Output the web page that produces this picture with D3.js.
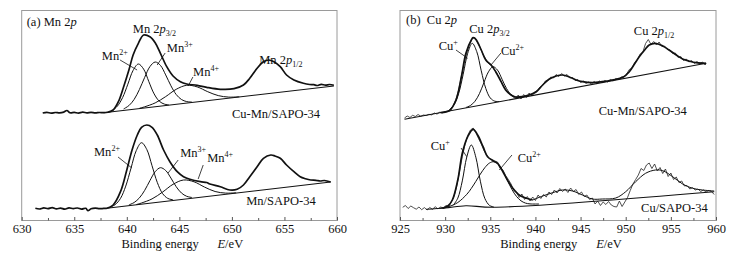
<!DOCTYPE html>
<html>
<head>
<meta charset="utf-8">
<script src="https://cdn.jsdelivr.net/npm/d3@7"></script>
<style>
  body { margin: 0; background: #fff; }
  svg text { font-family: "Liberation Serif", "Times New Roman", serif; fill: #111; }
</style>
</head>
<body>
<script>
// ---- data: [binding energy eV, intensity a.u.] ----
const mnTicks = [630, 635, 640, 645, 650, 655, 660];
const cuTicks = [925, 930, 935, 940, 945, 950, 955, 960];

// (a) Cu-Mn/SAPO-34, Mn 2p
const mnCuEnvelope = [[632.0,107.5],[632.4,108.2],[632.8,107.3],[633.2,108.0],[633.6,107.6],[634.0,108.4],[634.3,110.0],[634.6,107.8],[635.0,108.1],[635.4,107.4],[635.8,108.3],[636.2,107.7],[636.6,108.2],[637.0,107.6],[637.4,108.0],[637.8,107.8],[638.2,108.3],[638.7,110.5],[639.2,118.8],[639.7,133.8],[640.2,150.5],[640.6,165.5],[641.1,177.2],[641.6,185.5],[642.2,183.8],[642.7,177.8],[643.2,167.2],[643.8,153.8],[644.4,144.5],[645.1,138.8],[645.7,136.5],[646.7,135.2],[647.6,133.2],[648.9,131.2],[650.2,131.8],[651.1,135.5],[651.7,142.2],[652.4,152.2],[653.0,158.8],[653.5,160.5],[654.0,158.8],[654.6,153.8],[655.2,145.5],[655.9,140.5],[656.8,137.2],[657.4,136.0],[657.8,135.8],[658.1,135.0],[658.5,136.2],[658.9,135.3],[659.3,136.0],[659.7,135.2]];
const mnCuBase = [[637.8,107.8],[659.7,134.5]];
const mnCuMn2 = [[638.7,110.7],[639.1,114.3],[639.6,122.9],[640.1,136.3],[640.6,150.1],[641.1,156.5],[641.6,151.4],[642.1,138.8],[642.6,126.6],[643.1,119.2],[643.6,116.3],[644.0,115.6]];
const mnCuMn3 = [[639.7,111.6],[640.2,114.9],[640.7,121.1],[641.2,131.0],[641.7,143.1],[642.2,153.9],[642.7,158.5],[643.2,155.1],[643.7,145.6],[644.2,134.7],[644.7,126.0],[645.2,121.0],[645.7,118.9],[646.2,118.4]];
const mnCuMn4 = [[641.2,112.2],[641.7,113.7],[642.7,117.6],[643.7,123.9],[644.7,131.2],[645.7,135.2],[646.7,133.6],[647.7,128.8],[648.7,124.9],[649.7,123.4],[650.7,123.7]];

// (a) Mn/SAPO-34, Mn 2p
const mnEnvelope = [[631.3,12.2],[631.7,11.5],[632.1,12.6],[632.5,11.8],[632.9,12.9],[633.3,11.6],[633.7,12.4],[634.1,11.3],[634.5,12.7],[634.9,11.9],[635.3,12.5],[635.7,11.4],[636.1,12.2],[636.3,9.8],[636.6,11.7],[637.0,12.3],[637.4,11.8],[637.8,12.1],[638.1,12.2],[638.7,15.5],[639.4,28.8],[640.0,50.5],[640.5,70.5],[641.0,85.5],[641.4,93.2],[641.9,95.5],[642.4,93.2],[642.9,85.5],[643.5,70.5],[644.1,58.8],[644.8,48.8],[645.4,43.8],[646.0,41.2],[647.0,38.8],[647.6,38.0],[647.9,36.5],[648.9,33.8],[649.8,30.5],[650.5,31.2],[651.1,35.5],[651.7,43.8],[652.4,53.8],[653.0,62.2],[653.7,65.5],[654.1,64.5],[654.6,62.2],[655.2,55.5],[655.9,48.8],[656.5,43.8],[657.0,41.8],[657.5,40.5],[658.0,40.2],[658.4,39.5],[658.8,40.0],[659.4,38.5]];
const mnBase = [[638.1,12.2],[659.4,38.5]];
const mnMn2 = [[638.4,13.3],[638.9,15.9],[639.4,22.1],[639.9,34.4],[640.4,52.3],[640.9,69.9],[641.4,77.8],[641.9,71.1],[642.4,54.8],[642.9,38.1],[643.4,27.0],[643.9,22.1],[644.4,20.7]];
const mnMn3 = [[640.2,15.6],[640.7,18.0],[641.2,22.6],[641.7,30.1],[642.2,39.9],[642.7,48.8],[643.2,52.8],[643.7,50.0],[644.2,42.4],[644.7,33.8],[645.2,27.5],[645.7,24.2],[646.2,23.0]];
const mnMn4 = [[640.9,15.9],[641.4,17.5],[642.4,21.6],[643.4,28.4],[644.4,36.2],[645.4,40.5],[646.4,38.7],[647.4,33.4],[648.4,29.0],[649.4,27.4],[650.4,27.7]];

// (b) Cu-Mn/SAPO-34, Cu 2p
const cuMnRaw = [[925.5,102.5],[925.8,104.5],[926.1,103.0],[926.4,105.2],[926.7,104.0],[927.0,106.0],[927.3,104.3],[927.6,105.5],[927.9,105.0],[928.2,106.2],[928.5,105.6],[928.8,107.5],[929.1,106.4],[929.4,108.3],[929.7,107.6],[930.0,109.0],[930.3,109.5],[930.6,111.5],[930.9,115.0],[931.2,121.0],[931.5,130.5],[931.8,144.0],[932.1,157.0],[932.4,168.0],[932.7,176.5],[933.0,182.0],[933.3,183.0],[933.6,178.0],[933.9,172.5],[934.2,166.0],[934.5,161.5],[934.8,157.0],[935.1,155.0],[935.4,151.5],[935.7,147.5],[936.0,143.0],[936.3,137.0],[936.6,132.5],[936.9,128.5],[937.2,126.5],[937.5,124.0],[937.8,122.0],[938.1,125.5],[938.4,121.5],[938.7,126.0],[939.0,123.0],[939.3,127.5],[939.6,124.5],[939.9,128.5],[940.2,130.0],[940.5,133.5],[940.8,135.0],[941.1,139.5],[941.4,140.0],[941.7,143.5],[942.0,142.5],[942.3,146.0],[942.6,144.0],[942.9,147.0],[943.2,144.5],[943.5,146.0],[943.8,142.5],[944.1,143.0],[944.4,140.0],[944.7,141.0],[945.0,138.0],[945.3,139.5],[945.6,137.0],[945.9,138.5],[946.2,136.5],[946.5,139.0],[946.8,137.0],[947.1,139.5],[947.4,138.0],[947.7,140.0],[948.0,138.5],[948.3,141.0],[948.6,139.5],[948.9,142.0],[949.2,141.0],[949.5,143.5],[949.8,144.0],[950.1,146.5],[950.4,151.0],[950.7,152.5],[951.0,158.0],[951.3,161.0],[951.6,166.5],[951.9,168.5],[952.2,177.0],[952.5,181.0],[952.8,176.0],[953.1,179.0],[953.4,175.5],[953.7,178.5],[954.0,174.0],[954.3,174.5],[954.6,171.0],[954.9,170.5],[955.2,167.0],[955.5,167.5],[955.8,163.0],[956.1,164.0],[956.4,160.0],[956.7,161.5],[957.0,158.5],[957.3,160.0],[957.6,157.0],[957.9,159.0],[958.2,156.5],[958.5,158.5],[958.8,155.5],[958.9,157.5]];
const cuMnEnvelope = [[929.5,107.9],[930.5,110.0],[931.2,120.5],[931.8,143.8],[932.3,167.2],[932.9,180.5],[933.1,182.8],[933.4,181.2],[934.0,170.5],[934.5,160.5],[935.1,155.5],[935.6,148.8],[936.2,138.8],[936.7,130.5],[937.3,125.5],[937.8,123.5],[938.6,124.0],[939.3,125.5],[940.1,128.8],[940.8,135.5],[941.5,141.2],[942.3,144.5],[943.0,145.5],[943.7,143.8],[944.5,140.5],[945.2,138.8],[946.3,137.8],[947.4,138.8],[948.5,140.5],[949.7,143.2],[950.4,148.8],[950.9,155.5],[951.5,163.8],[952.1,170.5],[952.6,175.5],[953.3,177.2],[954.1,174.5],[954.8,170.5],[955.6,165.5],[956.3,161.5],[957.0,159.5],[957.8,157.8],[958.9,157.2]];
const cuMnBase = [[925.5,101.2],[958.9,157.2]];
const cuMnCu1 = [[930.5,110.9],[931.0,115.8],[931.5,127.1],[932.0,146.3],[932.5,167.3],[933.0,177.2],[933.5,168.9],[934.0,149.7],[934.5,132.1],[935.0,122.5],[935.5,119.3],[936.0,119.0]];
const cuMnCu2 = [[932.3,113.0],[932.8,115.0],[933.3,119.2],[933.8,126.9],[934.3,138.0],[934.8,148.7],[935.3,153.8],[935.8,150.4],[936.3,141.3],[936.8,132.0],[937.3,125.9],[937.8,123.4],[938.3,123.1]];

// (b) Cu/SAPO-34, Cu 2p
const cuRaw = [[925.3,13.2],[925.6,15.0],[925.9,12.0],[926.2,14.5],[926.5,12.8],[926.8,11.3],[927.1,13.5],[927.4,10.8],[927.7,12.9],[928.0,10.5],[928.3,13.0],[928.6,11.2],[928.9,13.8],[929.2,11.6],[929.5,13.5],[929.8,12.5],[930.1,15.0],[930.4,14.0],[930.7,19.0],[931.0,24.5],[931.3,35.0],[931.6,49.0],[931.9,64.0],[932.2,76.0],[932.5,85.0],[932.8,90.5],[933.1,92.5],[933.4,88.0],[933.7,82.0],[934.0,76.5],[934.3,70.0],[934.6,65.5],[934.9,62.0],[935.2,61.0],[935.5,59.5],[935.8,58.5],[936.1,52.0],[936.4,50.5],[936.7,45.0],[937.0,41.0],[937.3,36.5],[937.6,30.0],[937.9,28.5],[938.2,23.0],[938.5,26.5],[938.8,21.0],[939.1,24.0],[939.4,19.5],[939.7,23.5],[940.0,20.0],[940.3,25.5],[940.6,22.0],[940.9,26.0],[941.2,23.5],[941.5,28.5],[941.8,26.0],[942.1,30.5],[942.4,27.5],[942.7,32.0],[943.0,29.0],[943.3,31.5],[943.6,28.0],[943.9,32.5],[944.2,29.0],[944.5,31.0],[944.8,26.0],[945.1,28.5],[945.4,24.0],[945.7,25.5],[946.0,21.0],[946.3,22.5],[946.6,16.5],[946.9,19.5],[947.2,15.0],[947.5,18.5],[947.8,16.0],[948.1,19.0],[948.4,15.5],[948.7,14.0],[949.0,13.5],[949.3,19.5],[949.6,14.0],[949.9,18.5],[950.2,23.0],[950.5,30.0],[950.8,36.5],[951.1,41.0],[951.4,45.5],[951.7,52.0],[952.0,50.0],[952.3,55.5],[952.6,57.5],[952.9,52.0],[953.2,56.5],[953.5,49.5],[953.8,53.0],[954.1,47.0],[954.4,51.5],[954.7,44.0],[955.0,47.5],[955.3,41.0],[955.6,43.5],[955.9,38.0],[956.2,39.5],[956.5,34.5],[956.8,35.0],[957.1,31.5],[957.4,33.0],[957.7,30.5],[958.0,31.5],[958.3,29.0],[958.6,30.5],[958.9,28.5],[959.2,30.0],[959.5,29.0],[959.8,26.0]];
const cuEnvelope = [[929.7,12.2],[930.3,14.5],[930.8,20.5],[931.4,40.5],[931.9,67.2],[932.5,83.8],[933.1,91.2],[933.6,85.5],[934.2,73.8],[934.7,63.8],[935.3,59.8],[935.8,57.2],[936.4,48.8],[936.9,40.5],[937.5,32.2],[938.2,25.5],[939.0,22.2],[939.7,20.5]];
const cuFit = [[939.7,20.5],[940.8,24.5],[941.9,27.8],[943.0,30.5],[944.1,29.5],[945.2,25.5],[946.3,21.5],[947.4,21.5],[948.9,22.5],[950.0,28.8],[951.1,38.8],[952.2,47.2],[953.3,50.5],[954.1,49.8],[955.2,43.8],[956.3,36.5],[957.4,32.2],[958.5,30.5],[959.8,29.5]];
const cuBase = [[927.9,11.2],[930.0,12.5],[932.3,14.8],[935.3,13.2],[959.8,28.8]];
const cuCu1 = [[930.9,15.3],[931.4,22.3],[931.9,39.6],[932.4,63.6],[932.9,75.5],[933.4,63.3],[933.9,39.3],[934.4,22.0],[934.9,15.2],[935.4,13.4]];
const cuCu2 = [[929.4,12.2],[930.4,13.9],[931.4,18.0],[932.4,26.2],[932.9,32.1],[933.4,39.1],[933.9,46.4],[934.4,52.9],[934.9,57.4],[935.4,58.8],[935.9,56.3],[936.4,49.1],[936.9,39.9],[937.4,31.0],[937.9,24.1],[938.4,19.7],[938.9,17.4],[939.4,16.6],[940.4,16.5]];

function main()
{
    const svg = d3.select('body').append('svg')
        .attr('width', 752).attr('height', 261);

    const y = d3.scaleLinear().domain([0, 210]).range([220.5, 10.5]);
    const xA = d3.scaleLinear().domain([630, 660]).range([21.7, 337]);
    const xB = d3.scaleLinear().domain([925, 960]).range([400, 716]);

    drawPanel(svg, xA, y, mnTicks, 2.5, {
        thick: [mnCuEnvelope, mnEnvelope],
        thin: [mnCuMn2, mnCuMn3, mnCuMn4, mnMn2, mnMn3, mnMn4],
        base: [mnCuBase, mnBase],
        raw: [],
    });
    drawPanel(svg, xB, y, cuTicks, 2.5, {
        thick: [cuMnEnvelope, cuEnvelope],
        thin: [cuMnCu1, cuMnCu2, cuCu1, cuCu2, cuFit],
        base: [cuMnBase, cuBase],
        raw: [cuMnRaw, cuRaw],
    });

    // annotations (a)
    label(svg, xA(630) + 5, y(195), [['(a) Mn 2'], ['p', 'it']]);
    label(svg, xA(640.57), y(187.5), [['Mn 2'], ['p', 'it'], ['3/2', 'sub']]);
    label(svg, xA(652.6), y(156.5), [['Mn 2'], ['p', 'it'], ['1/2', 'sub']]);
    label(svg, xA(637.62), y(160.5), [['Mn'], ['2+', 'sup']]);
    label(svg, xA(643.81), y(168.5), [['Mn'], ['3+', 'sup']]);
    label(svg, xA(646.31), y(144.5), [['Mn'], ['4+', 'sup']]);
    label(svg, xA(650.0), y(102.5), [['Cu-Mn/SAPO-34']]);
    label(svg, xA(636.88), y(64.5), [['Mn'], ['2+', 'sup']]);
    label(svg, xA(645.08), y(63.8), [['Mn'], ['3+', 'sup']]);
    label(svg, xA(647.65), y(58.8), [['Mn'], ['4+', 'sup']]);
    label(svg, xA(651.36), y(15.5), [['Mn/SAPO-34']]);
    leader(svg, xA, y, [639.36, 160.5], [640.98, 150.5]);
    leader(svg, xA, y, [643.65, 167.5], [642.89, 155.5]);
    leader(svg, xA, y, [646.29, 143.5], [645.84, 134.5]);
    leader(svg, xA, y, [639.17, 63.5], [640.48, 52.5]);
    leader(svg, xA, y, [644.89, 60.5], [643.93, 47.5]);
    leader(svg, xA, y, [647.27, 55.5], [646.79, 41.5]);

    // annotations (b)
    label(svg, xB(925) + 6, y(197), [['(b)\u00a0\u00a0Cu 2'], ['p', 'it']]);
    label(svg, xB(932.67), y(187.5), [['Cu 2'], ['p', 'it'], ['3/2', 'sub']]);
    label(svg, xB(950.9), y(185.5), [['Cu 2'], ['p', 'it'], ['1/2', 'sub']]);
    label(svg, xB(929.29), y(170.5), [['Cu'], ['+', 'sup']]);
    label(svg, xB(936.18), y(165.5), [['Cu'], ['2+', 'sup']]);
    label(svg, xB(947.0), y(105.5), [['Cu-Mn/SAPO-34']]);
    label(svg, xB(928.4), y(70.5), [['Cu'], ['+', 'sup']]);
    label(svg, xB(938.03), y(58.8), [['Cu'], ['2+', 'sup']]);
    label(svg, xB(951.7), y(8.8), [['Cu/SAPO-34']]);
    leader(svg, xB, y, [931.2, 170.5], [932.5, 162.2]);
    leader(svg, xB, y, [936.18, 167.5], [935.08, 155.5]);
    leader(svg, xB, y, [931.76, 72.5], [932.39, 63.8]);
    leader(svg, xB, y, [937.4, 65.5], [936.0, 50.5]);
}

function drawPanel(svg, x, y, ticks, minorStep, lines)
{
    const g = svg.append('g');
    const [x0, x1] = x.range();

    g.append('rect')
        .attr('x', x0).attr('y', y(210))
        .attr('width', x1 - x0).attr('height', y(0) - y(210))
        .attr('fill', 'none').attr('stroke', '#9a9a9a').attr('stroke-width', 1);

    const minor = d3.range(ticks[0] + minorStep, ticks[ticks.length - 1], 5);
    const axis = g.append('g').attr('transform', `translate(0,${y(0)})`);
    axis.call(d3.axisBottom(x).tickValues(ticks).tickSize(-3.5).tickPadding(4));
    const minorAxis = g.append('g').attr('transform', `translate(0,${y(0)})`);
    minorAxis.call(d3.axisBottom(x).tickValues(minor).tickSize(-2.5).tickFormat(''));
    g.selectAll('.domain').remove();
    g.selectAll('.tick line').attr('stroke', '#555');
    axis.selectAll('text')
        .style('font-family', '"Liberation Serif", "Times New Roman", serif')
        .style('font-size', '12.5px').attr('fill', '#111');

    const t = g.append('text')
        .attr('x', (x0 + x1) / 2 + 3).attr('y', 248)
        .attr('text-anchor', 'middle').style('font-size', '12.5px');
    t.append('tspan').text('Binding energy\u00a0\u00a0\u00a0\u00a0\u00a0\u00a0');
    t.append('tspan').text('E').style('font-style', 'italic');
    t.append('tspan').text('/eV');

    const smooth = d3.line().x(d => x(d[0])).y(d => y(d[1])).curve(d3.curveCatmullRom);
    const straight = d3.line().x(d => x(d[0])).y(d => y(d[1]));

    lines.raw.forEach(d => g.append('path').attr('d', straight(d))
        .attr('fill', 'none').attr('stroke', '#222').attr('stroke-width', 0.8));
    lines.base.forEach(d => g.append('path').attr('d', smooth(d))
        .attr('fill', 'none').attr('stroke', '#111').attr('stroke-width', 1.1));
    lines.thin.forEach(d => g.append('path').attr('d', smooth(d))
        .attr('fill', 'none').attr('stroke', '#111').attr('stroke-width', 1));
    lines.thick.forEach(d => g.append('path').attr('d', smooth(d))
        .attr('fill', 'none').attr('stroke', '#111').attr('stroke-width', 1.7)
        .attr('stroke-linejoin', 'round'));
}

function label(svg, px, py, parts)
{
    const t = svg.append('text').attr('x', px).attr('y', py).style('font-size', '12.5px');
    parts.forEach(([s, kind]) => {
        const sp = t.append('tspan').text(s);
        if (kind === 'it') sp.style('font-style', 'italic');
        if (kind === 'sup') sp.style('font-size', '8px').attr('dy', -5);
        if (kind === 'sub') sp.style('font-size', '8px').attr('dy', 3);
    });
}

function leader(svg, x, y, a, b)
{
    svg.append('line')
        .attr('x1', x(a[0])).attr('y1', y(a[1]))
        .attr('x2', x(b[0])).attr('y2', y(b[1]))
        .attr('stroke', '#111').attr('stroke-width', 0.8);
}

main();
</script>
</body>
</html>
